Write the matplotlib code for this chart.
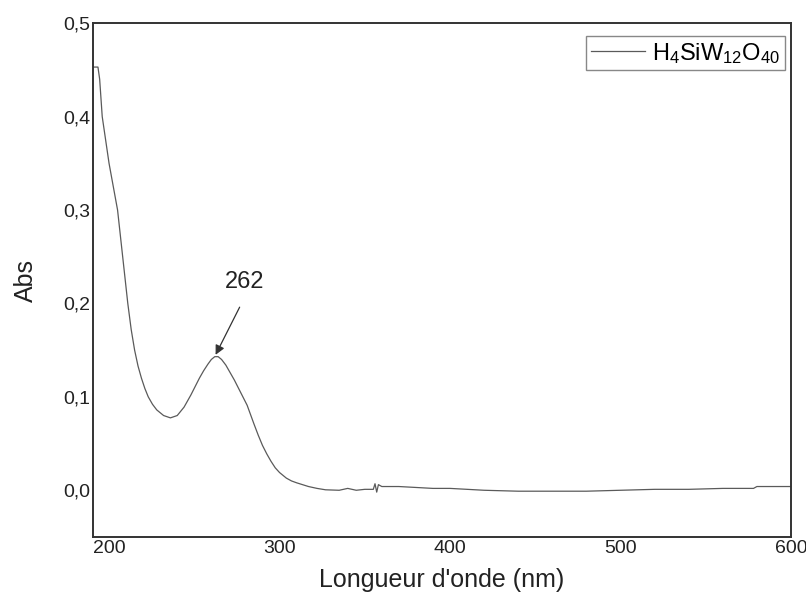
import matplotlib
matplotlib.use("Agg")
import matplotlib.pyplot as plt

plt.rcParams['font.family'] = ['Liberation Sans', 'DejaVu Sans']
plt.rcParams['mathtext.fontset'] = 'custom'
plt.rcParams['mathtext.rm'] = 'Liberation Sans'
plt.rcParams['mathtext.it'] = 'Liberation Sans:italic'

# spectrum (nm, Abs)
wavelength = [191, 193.5, 194.5, 196, 198, 200, 202.5, 205, 208, 211, 213, 215, 217, 219,
              221, 223, 225.5, 228, 232, 236, 240, 244, 248, 250.5, 253, 255.5, 258, 260,
              262, 264, 266, 268.5, 271, 273.5, 276, 278.5, 281, 283, 285, 287.5, 290,
              292.5, 295, 297.5, 300, 304, 307, 310, 317, 322, 327, 335, 340, 345, 350,
              355, 356, 357, 358, 360, 370, 380, 390, 400, 410, 420, 440, 460, 480, 500,
              520, 540, 560, 578, 580, 600]
absorb = [0.453, 0.453, 0.44, 0.40, 0.375, 0.35, 0.325, 0.30, 0.25, 0.20, 0.172, 0.15, 0.133,
          0.12, 0.109, 0.10, 0.092, 0.086, 0.080, 0.0775, 0.080, 0.089, 0.102, 0.111, 0.120,
          0.128, 0.135, 0.140, 0.143, 0.143, 0.140, 0.134, 0.126, 0.118, 0.109, 0.100, 0.091,
          0.081, 0.071, 0.059, 0.048, 0.039, 0.031, 0.024, 0.019, 0.013, 0.010, 0.008, 0.004,
          0.002, 0.0005, 0.000, 0.002, 0.000, 0.001, 0.001, 0.007, -0.002, 0.006, 0.004, 0.004,
          0.003, 0.002, 0.002, 0.001, 0.000, -0.001, -0.001, -0.001, 0.000, 0.001, 0.001, 0.002,
          0.002, 0.004, 0.004]

xticks = [200, 300, 400, 500, 600]
yticks = [0.0, 0.1, 0.2, 0.3, 0.4, 0.5]
ytick_labels = ['0,0', '0,1', '0,2', '0,3', '0,4', '0,5']
peak_x, peak_y = 262, 0.143

fig = plt.figure(figsize=(8.06, 5.94), dpi=100)
ax = fig.add_axes([0.1154, 0.096, 0.8660, 0.865])

ax.plot(wavelength, absorb, color='#5a5a5a', lw=0.9, label=r'$\mathrm{H_4SiW_{12}O_{40}}$')

ax.set_xlim(190.6, 600)
ax.set_ylim(-0.05, 0.5)
ax.set_xticks(xticks)
ax.set_xticklabels([str(t) for t in xticks])
ax.set_yticks(yticks)
ax.set_yticklabels(ytick_labels)
ax.tick_params(length=0, labelsize=14, colors='#222222', pad=2)

for s in ax.spines.values():
    s.set_color('#333333')
    s.set_linewidth(1.4)

ax.set_xlabel("Longueur d'onde (nm)", fontsize=18, color='#222222', labelpad=8)
ax.set_ylabel('Abs', fontsize=18, color='#222222', labelpad=18)

# peak label and arrow
ax.text(279.5, 0.223, '262', fontsize=17, color='#222222', ha='center', va='center')
ax.annotate('', xy=(peak_x + 0.5, peak_y + 0.002), xytext=(276.6, 0.196),
            arrowprops=dict(arrowstyle='-|>', color='#333333', lw=0.9,
                            mutation_scale=14, shrinkA=0, shrinkB=0))

leg = ax.legend(loc='upper right', bbox_to_anchor=(0.991, 0.975), borderaxespad=0,
                fontsize=17, fancybox=False, framealpha=1, edgecolor='#888888',
                handlelength=2.3, handletextpad=0.3, borderpad=0.2)
leg.get_frame().set_linewidth(1.0)

fig.savefig('out.png', dpi=100)
